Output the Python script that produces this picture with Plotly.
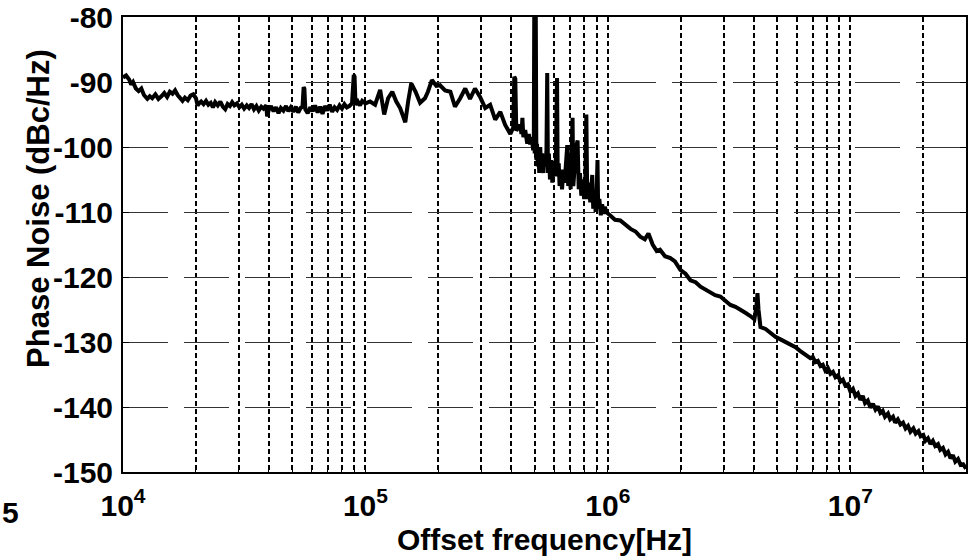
import plotly.graph_objects as go

# ---- data (offset frequency in Hz, phase noise in dBc/Hz) ----
seg_close = [  # 10 kHz .. 100 kHz
    (1.00e4, -89.3), (1.03e4, -89.0), (1.06e4, -89.6), (1.08e4, -90.4), (1.10e4, -90.0),
    (1.13e4, -91.0), (1.16e4, -91.4), (1.19e4, -91.0), (1.22e4, -92.0), (1.26e4, -92.6),
    (1.29e4, -92.2), (1.32e4, -92.5), (1.36e4, -91.9), (1.40e4, -92.6), (1.44e4, -92.2),
    (1.48e4, -91.7), (1.52e4, -92.3), (1.56e4, -91.5), (1.60e4, -91.8), (1.64e4, -91.3),
    (1.68e4, -92.0), (1.72e4, -92.6), (1.76e4, -92.9), (1.80e4, -92.4), (1.85e4, -92.8),
    (1.90e4, -92.1), (1.95e4, -91.9), (2.00e4, -92.5), (2.03e4, -93.6), (2.07e4, -93.2),
    (2.10e4, -93.0), (2.15e4, -93.4), (2.20e4, -92.9), (2.25e4, -93.5), (2.30e4, -93.2),
    (2.35e4, -93.9), (2.40e4, -93.1), (2.46e4, -93.6), (2.52e4, -93.0), (2.58e4, -93.8),
    (2.64e4, -94.2), (2.70e4, -93.4), (2.76e4, -93.7), (2.82e4, -93.1), (2.88e4, -93.6),
    (2.95e4, -93.3), (3.02e4, -93.9), (3.09e4, -93.5), (3.16e4, -94.1), (3.24e4, -93.6),
    (3.31e4, -94.0), (3.39e4, -93.4), (3.47e4, -94.2), (3.55e4, -93.7), (3.63e4, -94.4),
    (3.72e4, -93.8), (3.80e4, -94.1), (3.90e4, -93.6), (3.93e4, -95.3), (3.99e4, -94.3),
    (4.08e4, -93.7), (4.18e4, -94.5), (4.28e4, -93.9), (4.38e4, -94.8), (4.48e4, -94.0),
    (4.59e4, -94.4), (4.70e4, -93.7), (4.81e4, -94.5), (4.92e4, -93.9), (5.04e4, -94.6),
    (5.16e4, -93.8), (5.28e4, -94.7), (5.40e4, -94.0), (5.50e4, -93.8), (5.56e4, -90.8),
    (5.60e4, -91.0), (5.65e4, -94.2), (5.78e4, -94.8), (5.92e4, -93.9), (6.06e4, -94.5),
    (6.20e4, -93.6), (6.35e4, -94.7), (6.50e4, -93.8), (6.65e4, -94.9), (6.80e4, -93.7),
    (6.96e4, -94.4), (7.12e4, -93.5), (7.29e4, -94.6), (7.46e4, -93.9), (7.64e4, -94.3),
    (7.82e4, -93.6), (8.00e4, -94.1), (8.19e4, -93.4), (8.38e4, -93.9), (8.58e4, -93.7),
    (8.80e4, -93.3), (8.95e4, -88.9), (9.02e4, -89.2), (9.10e4, -93.5), (9.30e4, -93.0),
    (9.50e4, -93.6), (9.70e4, -92.9), (1.00e5, -93.3),
]

seg_mid = [  # 100 kHz .. 1 MHz
    (1.045e5, -93.0), (1.096e5, -93.5), (1.15e5, -91.2), (1.195e5, -95.0), (1.24e5, -92.5),
    (1.29e5, -91.5), (1.34e5, -93.0), (1.39e5, -94.0), (1.46e5, -96.2), (1.50e5, -93.0),
    (1.545e5, -90.2), (1.61e5, -91.5), (1.68e5, -93.2), (1.76e5, -92.5), (1.81e5, -91.5),
    (1.88e5, -89.7), (1.96e5, -90.6), (2.03e5, -90.5), (2.13e5, -91.3), (2.24e5, -91.5),
    (2.34e5, -93.8), (2.46e5, -92.5), (2.58e5, -91.0), (2.70e5, -92.6), (2.83e5, -91.0),
    (2.97e5, -92.3), (3.12e5, -94.0), (3.27e5, -93.5), (3.43e5, -95.8), (3.60e5, -94.6),
    (3.77e5, -96.6), (3.96e5, -98.0), (4.07e5, -97.0), (4.11e5, -89.2), (4.15e5, -89.5),
    (4.19e5, -97.5), (4.35e5, -96.6), (4.40e5, -98.0), (4.44e5, -95.5), (4.48e5, -98.5),
    (4.56e5, -97.4), (4.65e5, -99.5), (4.72e5, -98.0), (4.78e5, -99.6), (4.85e5, -98.5),
    (4.92e5, -100.5), (4.95e5, -98.0), (4.97e5, -78.0), (4.99e5, -101.0), (5.01e5, -99.0),
    (5.04e5, -78.0), (5.07e5, -102.0), (5.10e5, -99.5), (5.14e5, -103.0), (5.17e5, -100.5),
    (5.21e5, -104.0), (5.26e5, -100.0), (5.30e5, -103.5), (5.35e5, -101.0), (5.42e5, -104.0),
    (5.47e5, -101.5), (5.52e5, -103.0), (5.58e5, -100.5), (5.62e5, -88.6), (5.66e5, -104.0),
    (5.71e5, -101.0), (5.77e5, -105.0), (5.84e5, -102.0), (5.90e5, -105.5), (5.96e5, -102.5),
    (6.03e5, -104.5), (6.10e5, -102.0), (6.17e5, -89.4), (6.21e5, -104.5), (6.27e5, -102.5),
    (6.32e5, -106.0), (6.39e5, -103.5), (6.47e5, -106.5), (6.55e5, -103.5), (6.63e5, -105.5),
    (6.72e5, -102.5), (6.80e5, -99.7), (6.86e5, -106.0), (6.94e5, -103.0), (7.02e5, -106.5),
    (7.09e5, -100.0), (7.15e5, -95.5), (7.20e5, -106.0), (7.30e5, -102.5), (7.40e5, -100.0),
    (7.50e5, -99.0), (7.58e5, -106.5), (7.67e5, -104.0), (7.77e5, -107.5), (7.87e5, -105.0),
    (7.98e5, -108.0), (8.07e5, -105.5), (8.15e5, -95.0), (8.22e5, -108.0), (8.33e5, -105.5),
    (8.46e5, -108.5), (8.55e5, -106.5), (8.62e5, -104.3), (8.70e5, -109.5), (8.80e5, -107.0),
    (8.90e5, -110.0), (8.98e5, -107.5), (9.06e5, -102.0), (9.12e5, -109.5), (9.22e5, -108.0),
    (9.35e5, -110.5), (9.47e5, -108.8), (9.60e5, -110.3), (9.72e5, -109.2), (9.84e5, -110.0),
]

seg_far = [  # 1 MHz .. 30 MHz
    (1.02e6, -110.5), (1.07e6, -111.2), (1.125e6, -111.3), (1.18e6, -112.0), (1.24e6, -112.6),
    (1.30e6, -113.0), (1.36e6, -113.8), (1.42e6, -114.2), (1.47e6, -113.3), (1.53e6, -115.0),
    (1.59e6, -116.0), (1.64e6, -115.8), (1.72e6, -116.8), (1.81e6, -117.1), (1.89e6, -117.6),
    (1.99e6, -118.9), (2.09e6, -119.5), (2.19e6, -120.5), (2.30e6, -120.8), (2.41e6, -121.5),
    (2.52e6, -121.9), (2.65e6, -122.3), (2.77e6, -122.8), (2.91e6, -123.0), (3.05e6, -123.6),
    (3.20e6, -124.3), (3.36e6, -124.6), (3.52e6, -125.0), (3.69e6, -125.5), (3.87e6, -126.0),
    (4.02e6, -126.5), (4.10e6, -124.5), (4.14e6, -122.5), (4.18e6, -125.0), (4.26e6, -127.7),
    (4.47e6, -128.0), (4.68e6, -128.6), (4.91e6, -129.2), (5.15e6, -129.6), (5.40e6, -130.0),
    (5.66e6, -130.5), (5.94e6, -130.8), (6.22e6, -131.4), (6.52e6, -132.0), (6.84e6, -132.5),
    (7.00e6, -132.3), (7.17e6, -133.1), (7.35e6, -132.9), (7.53e6, -133.7), (7.70e6, -133.5),
    (7.89e6, -134.4), (8.08e6, -134.0), (8.28e6, -134.9), (8.48e6, -134.6), (8.68e6, -135.4),
    (8.90e6, -135.1), (9.10e6, -136.1), (9.32e6, -135.8), (9.54e6, -136.7), (9.77e6, -136.5),
    (1.00e7, -137.6), (1.025e7, -137.2), (1.05e7, -138.3), (1.075e7, -137.9), (1.10e7, -138.9),
    (1.125e7, -138.3), (1.15e7, -139.4), (1.18e7, -139.0), (1.21e7, -140.1), (1.24e7, -139.5),
    (1.27e7, -140.4), (1.30e7, -139.9), (1.33e7, -140.9), (1.36e7, -140.6), (1.39e7, -141.5),
    (1.43e7, -141.0), (1.46e7, -141.9), (1.50e7, -141.5), (1.53e7, -142.4), (1.57e7, -141.9),
    (1.61e7, -142.7), (1.65e7, -142.4), (1.69e7, -143.3), (1.73e7, -142.9), (1.77e7, -143.8),
    (1.82e7, -143.3), (1.86e7, -144.1), (1.91e7, -143.7), (1.95e7, -144.5), (2.00e7, -144.3),
    (2.04e7, -145.2), (2.09e7, -144.8), (2.14e7, -145.7), (2.19e7, -145.2), (2.24e7, -146.0),
    (2.30e7, -145.7), (2.35e7, -146.6), (2.41e7, -146.3), (2.47e7, -147.3), (2.53e7, -146.9),
    (2.59e7, -147.9), (2.65e7, -147.4), (2.71e7, -148.4), (2.78e7, -148.0), (2.85e7, -148.9),
    (2.92e7, -148.8), (3.00e7, -149.5),
]

decade_ticks = [1e4, 1e5, 1e6, 1e7]
decade_labels = ["10<sup>4</sup>", "10<sup>5</sup>", "10<sup>6</sup>", "10<sup>7</sup>"]
minor_mult = [2, 3, 4, 5, 6, 7, 8, 9]
y_ticks = [-150, -140, -130, -120, -110, -100, -90, -80]
y_labels = ["-150", "-140", "-130", "-120", "-110", "-100", "-90", "-80"]

points = seg_close + seg_mid + seg_far
offset_hz = [p[0] for p in points]
phase_noise = [p[1] for p in points]

x_tickvals = []
x_ticktext = []
for d, lab in zip(decade_ticks, decade_labels):
    x_tickvals.append(d)
    x_ticktext.append(lab)
    for m in minor_mult:
        v = d * m
        if v <= 3e7:
            x_tickvals.append(v)
            x_ticktext.append("")

FONT = "Liberation Sans, Arial, sans-serif"

fig = go.Figure()
fig.add_trace(go.Scatter(
    x=offset_hz, y=phase_noise, mode="lines",
    line=dict(color="black", width=4),
    showlegend=False,
))

fig.update_layout(
    width=976, height=558,
    margin=dict(l=123, r=10, t=17, b=86, autoexpand=False),
    paper_bgcolor="white", plot_bgcolor="white",
    font=dict(family=FONT, color="black"),
)

fig.update_xaxes(
    type="log", range=[4, 7.4771], automargin=False,
    tickvals=x_tickvals, ticktext=x_ticktext,
    tickfont=dict(family=FONT, size=30, weight="bold", color="black"),
    ticklabelstandoff=6,
    ticks="inside", ticklen=5, tickcolor="black", tickwidth=1,
    showgrid=True, gridcolor="black", gridwidth=1.5, griddash="5px,3px",
    showline=True, linecolor="black", linewidth=2, mirror="ticks",
    zeroline=False,
)
fig.update_yaxes(
    range=[-150, -80], automargin=False,
    tickvals=y_ticks, ticktext=y_labels,
    tickfont=dict(family=FONT, size=30, weight="bold", color="black"),
    ticklabelstandoff=2,
    ticks="inside", ticklen=6, tickcolor="black", tickwidth=1,
    showgrid=True, gridcolor="#333333", gridwidth=1, griddash="45px,16px",
    showline=True, linecolor="black", linewidth=2, mirror="ticks",
    zeroline=False,
)

fig.add_annotation(
    text="<b>Offset frequency[Hz]</b>", xref="paper", yref="paper",
    x=0.5, y=-0.149, yanchor="middle", xanchor="center", showarrow=False,
    font=dict(family=FONT, size=30, color="black"),
)
fig.add_annotation(
    text="<b>Phase Noise (dBc/Hz)</b>", xref="paper", yref="paper",
    x=-0.101, y=0.58, xanchor="center", yanchor="middle", textangle=-90,
    showarrow=False, font=dict(family=FONT, size=31, color="black"),
)
fig.add_annotation(
    text="<b>5</b>", xref="paper", yref="paper",
    x=-0.146, y=-0.088, xanchor="left", yanchor="middle", showarrow=False,
    font=dict(family=FONT, size=30, color="black"),
)

fig.write_html("out.html")
